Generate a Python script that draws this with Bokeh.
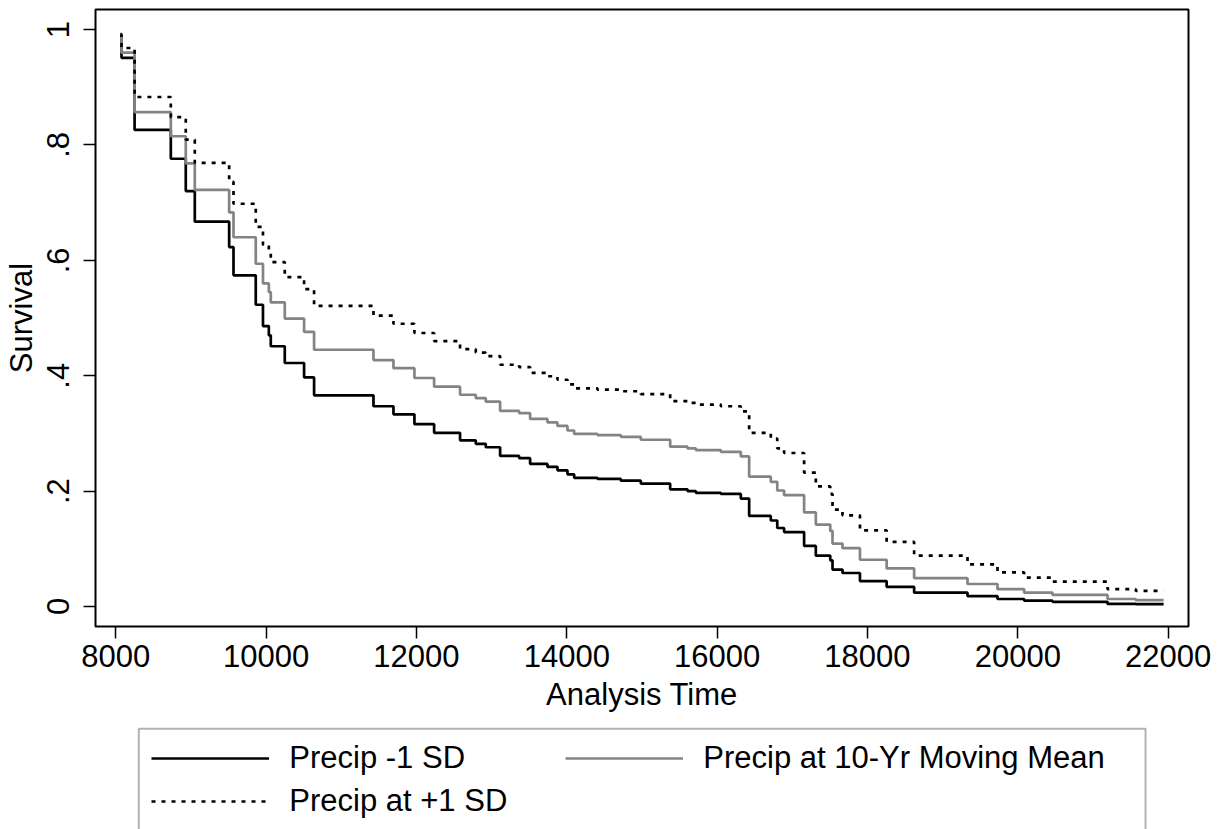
from bokeh.plotting import figure
from bokeh.layouts import column
from bokeh.models import (Range1d, FixedTicker, Legend, LegendItem, ColumnDataSource,
                          BoxAnnotation)
from bokeh.embed import file_html
from bokeh.resources import INLINE

# ---- data ----
analysis_time = [8060, 8076, 8250, 8732, 8931, 9051, 9508, 9566, 9862, 9958,
                 10036, 10062, 10248, 10505, 10638, 11428, 11694, 11973, 12235, 12580,
                 12789, 12922, 13113, 13366, 13512, 13743, 13876, 14009, 14098, 14408,
                 14719, 14985, 15375, 15606, 15717, 16049, 16315, 16426, 16714, 16800,
                 16891, 17157, 17313, 17505, 17535, 17668, 17900, 18255, 18621, 19331,
                 19730, 20085, 20462, 21194, 21570, 21940]

surv_minus_1sd = [0.988, 0.951, 0.826, 0.776, 0.720, 0.667, 0.623, 0.574, 0.523, 0.486,
                  0.470, 0.451, 0.422, 0.397, 0.366, 0.347, 0.333, 0.316, 0.301, 0.288,
                  0.282, 0.276, 0.261, 0.257, 0.247, 0.242, 0.236, 0.229, 0.223, 0.221,
                  0.218, 0.213, 0.203, 0.200, 0.197, 0.195, 0.187, 0.157, 0.149, 0.136,
                  0.129, 0.105, 0.088, 0.080, 0.064, 0.058, 0.044, 0.034, 0.024, 0.018,
                  0.013, 0.010, 0.008, 0.0045, 0.004, 0.004]

surv_moving_mean = [0.990, 0.960, 0.857, 0.815, 0.768, 0.722, 0.683, 0.640, 0.594, 0.560,
                    0.545, 0.527, 0.499, 0.476, 0.445, 0.427, 0.413, 0.396, 0.381, 0.367,
                    0.361, 0.355, 0.339, 0.335, 0.325, 0.319, 0.313, 0.305, 0.299, 0.297,
                    0.294, 0.289, 0.277, 0.274, 0.271, 0.268, 0.260, 0.225, 0.216, 0.201,
                    0.193, 0.163, 0.142, 0.131, 0.109, 0.101, 0.081, 0.066, 0.049, 0.039,
                    0.030, 0.024, 0.020, 0.013, 0.011, 0.011]

surv_plus_1sd = [0.992, 0.968, 0.883, 0.848, 0.809, 0.769, 0.736, 0.698, 0.658, 0.627,
                 0.613, 0.597, 0.571, 0.550, 0.521, 0.504, 0.490, 0.474, 0.460, 0.446,
                 0.440, 0.434, 0.419, 0.415, 0.405, 0.399, 0.393, 0.385, 0.378, 0.376,
                 0.373, 0.368, 0.356, 0.353, 0.350, 0.347, 0.338, 0.301, 0.291, 0.274,
                 0.266, 0.232, 0.208, 0.195, 0.168, 0.158, 0.132, 0.112, 0.088, 0.073,
                 0.059, 0.050, 0.043, 0.030, 0.027, 0.027]

x_ticks = [8000, 10000, 12000, 14000, 16000, 18000, 20000, 22000]
y_ticks = [0, 0.2, 0.4, 0.6, 0.8, 1]
y_tick_labels = ["0", ".2", ".4", ".6", ".8", "1"]
series_labels = ["Precip -1 SD", "Precip at 10-Yr Moving Mean", "Precip at +1 SD"]
x_title = "Analysis Time"
y_title = "Survival"

FONT = "Liberation Sans"
FS = "31px"
GRAY = "#848484"
LW = 2.7
DASH = "4 6"

src = ColumnDataSource(dict(t=analysis_time, lo=surv_minus_1sd,
                            mid=surv_moving_mean, hi=surv_plus_1sd))

# ---------------- main plot ----------------
p = figure(width=1221, height=726, output_backend="svg", toolbar_location=None,
           x_range=Range1d(7730, 22271), y_range=Range1d(-0.0347, 1.0347),
           min_border_left=95, min_border_right=33, min_border_top=9,
           min_border_bottom=100)
p.outline_line_color = "black"
p.outline_line_width = 2
p.grid.visible = False
p.background_fill_color = "white"
p.border_fill_color = "white"

p.step("t", "lo", source=src, mode="after", line_color="black", line_width=LW)
p.step("t", "mid", source=src, mode="after", line_color=GRAY, line_width=LW)
p.step("t", "hi", source=src, mode="after", line_color="black", line_width=LW,
       line_dash=DASH)

for ax in (p.xaxis[0], p.yaxis[0]):
    ax.axis_line_color = None
    ax.major_tick_out = 12
    ax.major_tick_in = 0
    ax.major_tick_line_width = 1.5
    ax.major_tick_line_color = "black"
    ax.minor_tick_line_color = None
    ax.major_label_text_font = FONT
    ax.major_label_text_font_size = FS
    ax.major_label_text_color = "black"
    ax.axis_label_text_font = FONT
    ax.axis_label_text_font_size = FS
    ax.axis_label_text_font_style = "normal"
    ax.axis_label_text_color = "black"

p.xaxis.ticker = FixedTicker(ticks=x_ticks)
p.xaxis.axis_label = x_title
p.xaxis.major_label_standoff = 6
p.xaxis.axis_label_standoff = 7

p.yaxis.ticker = FixedTicker(ticks=y_ticks)
p.yaxis.major_label_overrides = dict(zip(y_ticks, y_tick_labels))
p.yaxis.major_label_orientation = "vertical"
p.yaxis.axis_label = y_title
p.yaxis.major_label_standoff = 14
p.yaxis.axis_label_standoff = 6

# ---------------- legend strip below (frame aligned with the plot above) -------
lg = figure(width=1221, height=103, output_backend="svg", toolbar_location=None,
            x_range=Range1d(0, 1), y_range=Range1d(0, 1),
            x_axis_location=None, y_axis_location=None, min_border=0)
lg.outline_line_color = None
lg.grid.visible = False
lg.background_fill_color = "white"
lg.border_fill_color = "white"

# legend frame (runs off the bottom of the picture, as in the original)
lg.add_layout(BoxAnnotation(left=0.0396, right=0.9607, top=0.9777, bottom=-0.2,
                            fill_color=None, fill_alpha=0, line_color="black",
                            line_width=2))

# same series, outside this strip's visible range: only their legend keys show
k1 = lg.step("t", "lo", source=src, mode="after", line_color="black", line_width=LW)
k2 = lg.step("t", "mid", source=src, mode="after", line_color=GRAY, line_width=LW)
k3 = lg.step("t", "hi", source=src, mode="after", line_color="black", line_width=LW,
             line_dash=DASH)

legend = Legend(items=[LegendItem(label=series_labels[0], renderers=[k1]),
                       LegendItem(label=series_labels[1], renderers=[k2]),
                       LegendItem(label=series_labels[2], renderers=[k3])],
                orientation="horizontal", nrows=2, location=(56.3, 9.7),
                glyph_width=118, glyph_height=36, label_height=36, label_width=269,
                label_standoff=20, spacing=7, padding=0, margin=0,
                border_line_color=None, background_fill_alpha=0,
                label_text_font=FONT, label_text_font_size=FS, label_text_color="black")
lg.add_layout(legend, "center")

layout = column(p, lg, spacing=0)
open("out.html", "w").write(file_html(layout, INLINE))
